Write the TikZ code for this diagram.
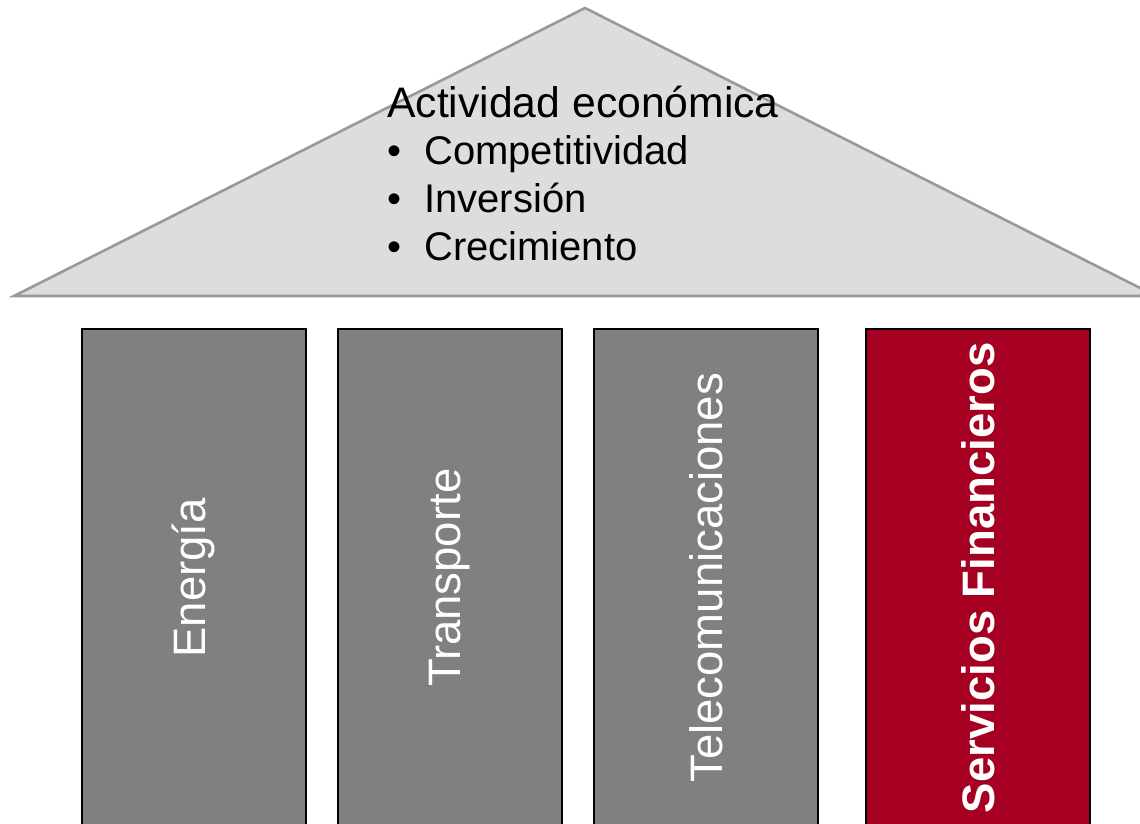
\documentclass[tikz,border=0pt]{standalone}
\usepackage{fontspec}
\setmainfont{Liberation Sans}
\definecolor{roofFill}{HTML}{DDDDDD}
\definecolor{roofLine}{HTML}{999999}
\definecolor{pillarGray}{HTML}{808080}
\definecolor{pillarRed}{HTML}{A50021}
\begin{document}
\begin{tikzpicture}[x=1pt,y=-1pt,
  roof/.style={fill=roofFill,draw=roofLine,line width=2.6pt,line join=miter},
  pillar/.style={draw=black,line width=1.6pt,minimum width=224pt,minimum height=498pt,inner sep=0pt,anchor=north west},
  pillartext/.style={rotate=90,text=white,font=\fontsize{45.5}{52}\selectfont},
  rooftext/.style={font=\fontsize{40}{46}\selectfont,inner sep=0pt,anchor=base west}]
\useasboundingbox (0,0) rectangle (1140,823);
\begin{scope}
\clip (0,0) rectangle (1140,823);
\filldraw[roof] (14,296) -- (585,8) -- (1156,296) -- cycle;
\node[pillar,fill=pillarGray] (p1) at (81,328) {};
\node[pillar,fill=pillarGray] (p2) at (337,328) {};
\node[pillar,fill=pillarGray] (p3) at (593,328) {};
\node[pillar,fill=pillarRed] (p4) at (865,328) {};
\end{scope}
\node[pillartext] (t1) at (p1.center) {Energía};
\node[pillartext] (t2) at (p2.center) {Transporte};
\node[pillartext] (t3) at (p3.center) {Telecomunicaciones};
\node[pillartext,font=\fontsize{45.5}{52}\selectfont\bfseries] (t4) at (p4.center) {Servicios Financieros};
\node[rooftext,font=\fontsize{42.7}{48}\selectfont] (h) at (387,117) {Actividad económica};
\node[rooftext] (b1) at (387,164) {•};
\node[rooftext] (c1) at (424,164) {Competitividad};
\node[rooftext] (b2) at (387,212) {•};
\node[rooftext] (c2) at (424,212) {Inversión};
\node[rooftext] (b3) at (387,260) {•};
\node[rooftext] (c3) at (424,260) {Crecimiento};
\end{tikzpicture}
\end{document}
